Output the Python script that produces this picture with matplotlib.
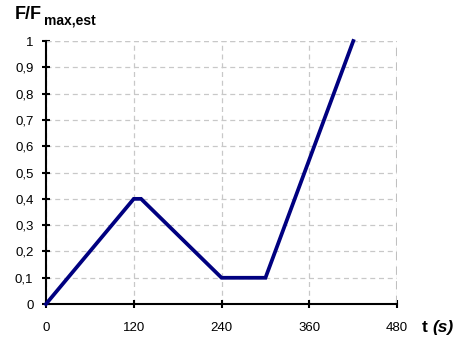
import matplotlib
matplotlib.use("Agg")
import matplotlib.pyplot as plt

t_values = [0, 120, 130, 240, 300, 420]
f_values = [0, 0.4, 0.4, 0.1, 0.1, 1.0]
x_ticks = [0, 120, 240, 360, 480]
y_ticks = [0, 0.1, 0.2, 0.3, 0.4, 0.5, 0.6, 0.7, 0.8, 0.9, 1.0]
y_labels = ["0", "0,1", "0,2", "0,3", "0,4", "0,5", "0,6", "0,7", "0,8", "0,9", "1"]

plt.rcParams['font.family'] = ['Liberation Sans', 'DejaVu Sans']

fig = plt.figure(figsize=(4.64, 3.39), dpi=100)
ax = fig.add_axes([0.099, 0.103, 0.757, 0.776])
ax.plot(t_values, f_values, color='#000080', lw=2.7, solid_joinstyle='miter', clip_on=False, zorder=3)
ax.set_xlim(0, 480)
ax.set_ylim(0, 1)
ax.set_xticks(x_ticks)
ax.set_xticklabels([str(v) for v in x_ticks])
ax.set_yticks(y_ticks)
ax.set_yticklabels(y_labels)
dash = (0, (4, 3))
ax.grid(True, color='#c8c8c8', linestyle=dash, linewidth=0.9)
for s in ['top', 'right']:
    ax.spines[s].set_visible(False)
ax.axhline(1, color='#c8c8c8', linestyle=dash, lw=0.9)
ax.axvline(480, color='#c0c0c0', linestyle=dash, lw=1.5)
ax.spines['left'].set_linewidth(1.5)
ax.spines['bottom'].set_linewidth(1.5)
ax.tick_params(direction='inout', length=6, width=1.5, labelsize=9.5)
ax.tick_params(axis='x', pad=10)
ax.tick_params(axis='y', pad=6)
ax.set_axisbelow(True)

fig.text(0.032, 0.944, "F/F", fontsize=13, fontweight='bold', ha='left', va='baseline')
fig.text(0.094, 0.929, "max,est", fontsize=10, fontweight='bold', ha='left', va='baseline')
fig.text(0.909, 0.021, "t", fontsize=12.5, fontweight='bold', ha='left', va='baseline')
fig.text(0.931, 0.021, "(s)", fontsize=12.5, fontweight='bold', style='italic', ha='left', va='baseline')

fig.savefig("out.png", dpi=100)
